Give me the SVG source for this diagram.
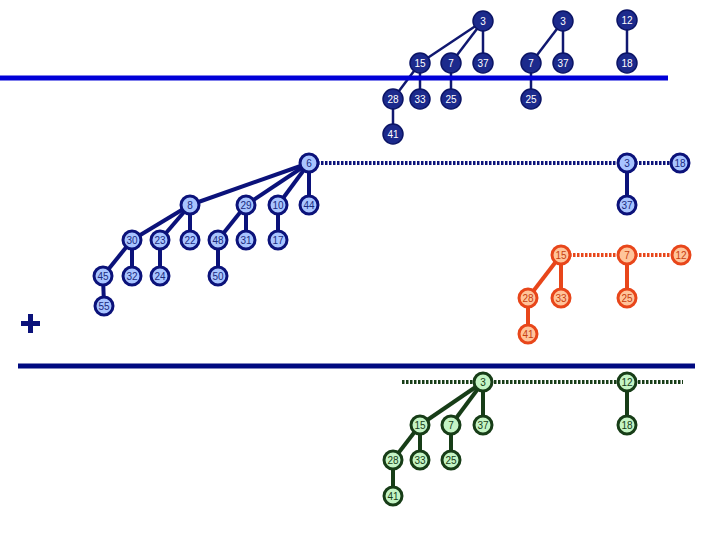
<svg xmlns="http://www.w3.org/2000/svg" width="720" height="540" viewBox="0 0 720 540">
<style>
text{font-family:"Liberation Sans",Arial,sans-serif;font-size:10px;text-anchor:middle;dominant-baseline:central}
.d circle{fill:#1c2a8c;stroke:#0b1466;stroke-width:1.5}
.d text{fill:#ffffff}
.b circle{fill:#a8c4ff;stroke:#0b127a;stroke-width:3}
.b text{fill:#1a2a80}
.o circle{fill:#ffc49a;stroke:#e8461a;stroke-width:3}
.o text{fill:#c8400f}
.g circle{fill:#c4f4c4;stroke:#173d17;stroke-width:3}
.g text{fill:#173d17}
.ed line{stroke:#101870;stroke-width:2.5}
.eb line{stroke:#0b127a;stroke-width:4}
.eo line{stroke:#e8461a;stroke-width:4}
.eg line{stroke:#173d17;stroke-width:4}
.dot{stroke-width:3;stroke-dasharray:2.5 1.5}
</style>
<rect width="720" height="540" fill="#ffffff"/>
<g id="connectors">
<g class="ed">
<line x1="483" y1="21" x2="420" y2="63"/><line x1="483" y1="21" x2="451" y2="63"/><line x1="483" y1="21" x2="483" y2="63"/>
<line x1="420" y1="63" x2="393" y2="99"/><line x1="420" y1="63" x2="420" y2="99"/><line x1="451" y1="63" x2="451" y2="99"/>
<line x1="393" y1="99" x2="393" y2="134"/>
<line x1="563" y1="21" x2="531" y2="63"/><line x1="563" y1="21" x2="563" y2="63"/><line x1="531" y1="63" x2="531" y2="99"/>
<line x1="627" y1="20" x2="627" y2="63"/>
</g>
<g class="eb">
<line x1="309" y1="163" x2="190" y2="205"/><line x1="309" y1="163" x2="246" y2="205"/><line x1="309" y1="163" x2="278" y2="205"/><line x1="309" y1="163" x2="309" y2="205"/>
<line x1="190" y1="205" x2="132" y2="240"/><line x1="190" y1="205" x2="160" y2="240"/><line x1="190" y1="205" x2="190" y2="240"/>
<line x1="246" y1="205" x2="218" y2="240"/><line x1="246" y1="205" x2="246" y2="240"/><line x1="278" y1="205" x2="278" y2="240"/>
<line x1="132" y1="240" x2="103" y2="276"/><line x1="132" y1="240" x2="132" y2="276"/><line x1="160" y1="240" x2="160" y2="276"/><line x1="218" y1="240" x2="218" y2="276"/>
<line x1="103" y1="276" x2="104" y2="306"/>
<line x1="627" y1="163" x2="627" y2="205"/>
<line class="dot" x1="309" y1="163" x2="627" y2="163"/><line class="dot" x1="627" y1="163" x2="680" y2="163"/>
</g>
<g class="eo">
<line x1="561" y1="255" x2="528" y2="298"/><line x1="561" y1="255" x2="561" y2="298"/><line x1="627" y1="255" x2="627" y2="298"/>
<line x1="528" y1="298" x2="528" y2="334"/>
<line class="dot" x1="561" y1="255" x2="627" y2="255"/><line class="dot" x1="627" y1="255" x2="681" y2="255"/>
</g>
<g class="eg">
<line x1="483" y1="382" x2="420" y2="425"/><line x1="483" y1="382" x2="451" y2="425"/><line x1="483" y1="382" x2="483" y2="425"/>
<line x1="420" y1="425" x2="393" y2="460"/><line x1="420" y1="425" x2="420" y2="460"/><line x1="451" y1="425" x2="451" y2="460"/>
<line x1="393" y1="460" x2="393" y2="496"/><line x1="627" y1="382" x2="627" y2="425"/>
<line class="dot" x1="402" y1="382" x2="683" y2="382"/>
</g>
</g>
<rect x="0" y="75.5" width="668" height="5" fill="#0000d8"/>
<rect x="18" y="363.5" width="677" height="5" fill="#000a80"/>
<path d="M30.5 314V333M21 323.5H40" stroke="#0b127a" stroke-width="5"/>
<g class="d">
<g id="t3a"><circle cx="483" cy="21" r="10"/><text x="483" y="21">3</text></g>
<g id="t3b"><circle cx="563" cy="21" r="10"/><text x="563" y="21">3</text></g>
<g id="t12"><circle cx="627" cy="20" r="10"/><text x="627" y="20">12</text></g>
<g id="t15"><circle cx="420" cy="63" r="10"/><text x="420" y="63">15</text></g>
<g id="t7a"><circle cx="451" cy="63" r="10"/><text x="451" y="63">7</text></g>
<g id="t37a"><circle cx="483" cy="63" r="10"/><text x="483" y="63">37</text></g>
<g id="t7b"><circle cx="531" cy="63" r="10"/><text x="531" y="63">7</text></g>
<g id="t37b"><circle cx="563" cy="63" r="10"/><text x="563" y="63">37</text></g>
<g id="t18"><circle cx="627" cy="63" r="10"/><text x="627" y="63">18</text></g>
<g id="t28"><circle cx="393" cy="99" r="10"/><text x="393" y="99">28</text></g>
<g id="t33"><circle cx="420" cy="99" r="10"/><text x="420" y="99">33</text></g>
<g id="t25a"><circle cx="451" cy="99" r="10"/><text x="451" y="99">25</text></g>
<g id="t25b"><circle cx="531" cy="99" r="10"/><text x="531" y="99">25</text></g>
<g id="t41"><circle cx="393" cy="134" r="10"/><text x="393" y="134">41</text></g>
</g>
<g class="b">
<g id="b6"><circle cx="309" cy="163" r="9"/><text x="309" y="163">6</text></g>
<g id="b8"><circle cx="190" cy="205" r="9"/><text x="190" y="205">8</text></g>
<g id="b29"><circle cx="246" cy="205" r="9"/><text x="246" y="205">29</text></g>
<g id="b10"><circle cx="278" cy="205" r="9"/><text x="278" y="205">10</text></g>
<g id="b44"><circle cx="309" cy="205" r="9"/><text x="309" y="205">44</text></g>
<g id="b30"><circle cx="132" cy="240" r="9"/><text x="132" y="240">30</text></g>
<g id="b23"><circle cx="160" cy="240" r="9"/><text x="160" y="240">23</text></g>
<g id="b22"><circle cx="190" cy="240" r="9"/><text x="190" y="240">22</text></g>
<g id="b48"><circle cx="218" cy="240" r="9"/><text x="218" y="240">48</text></g>
<g id="b31"><circle cx="246" cy="240" r="9"/><text x="246" y="240">31</text></g>
<g id="b17"><circle cx="278" cy="240" r="9"/><text x="278" y="240">17</text></g>
<g id="b45"><circle cx="103" cy="276" r="9"/><text x="103" y="276">45</text></g>
<g id="b32"><circle cx="132" cy="276" r="9"/><text x="132" y="276">32</text></g>
<g id="b24"><circle cx="160" cy="276" r="9"/><text x="160" y="276">24</text></g>
<g id="b50"><circle cx="218" cy="276" r="9"/><text x="218" y="276">50</text></g>
<g id="b55"><circle cx="104" cy="306" r="9"/><text x="104" y="306">55</text></g>
<g id="b3"><circle cx="627" cy="163" r="9"/><text x="627" y="163">3</text></g>
<g id="b18"><circle cx="680" cy="163" r="9"/><text x="680" y="163">18</text></g>
<g id="b37"><circle cx="627" cy="205" r="9"/><text x="627" y="205">37</text></g>
</g>
<g class="o">
<g id="o15"><circle cx="561" cy="255" r="9"/><text x="561" y="255">15</text></g>
<g id="o7"><circle cx="627" cy="255" r="9"/><text x="627" y="255">7</text></g>
<g id="o12"><circle cx="681" cy="255" r="9"/><text x="681" y="255">12</text></g>
<g id="o28"><circle cx="528" cy="298" r="9"/><text x="528" y="298">28</text></g>
<g id="o33"><circle cx="561" cy="298" r="9"/><text x="561" y="298">33</text></g>
<g id="o25"><circle cx="627" cy="298" r="9"/><text x="627" y="298">25</text></g>
<g id="o41"><circle cx="528" cy="334" r="9"/><text x="528" y="334">41</text></g>
</g>
<g class="g">
<g id="g3"><circle cx="483" cy="382" r="9"/><text x="483" y="382">3</text></g>
<g id="g12"><circle cx="627" cy="382" r="9"/><text x="627" y="382">12</text></g>
<g id="g15"><circle cx="420" cy="425" r="9"/><text x="420" y="425">15</text></g>
<g id="g7"><circle cx="451" cy="425" r="9"/><text x="451" y="425">7</text></g>
<g id="g37"><circle cx="483" cy="425" r="9"/><text x="483" y="425">37</text></g>
<g id="g18"><circle cx="627" cy="425" r="9"/><text x="627" y="425">18</text></g>
<g id="g28"><circle cx="393" cy="460" r="9"/><text x="393" y="460">28</text></g>
<g id="g33"><circle cx="420" cy="460" r="9"/><text x="420" y="460">33</text></g>
<g id="g25"><circle cx="451" cy="460" r="9"/><text x="451" y="460">25</text></g>
<g id="g41"><circle cx="393" cy="496" r="9"/><text x="393" y="496">41</text></g>
</g>
</svg>
